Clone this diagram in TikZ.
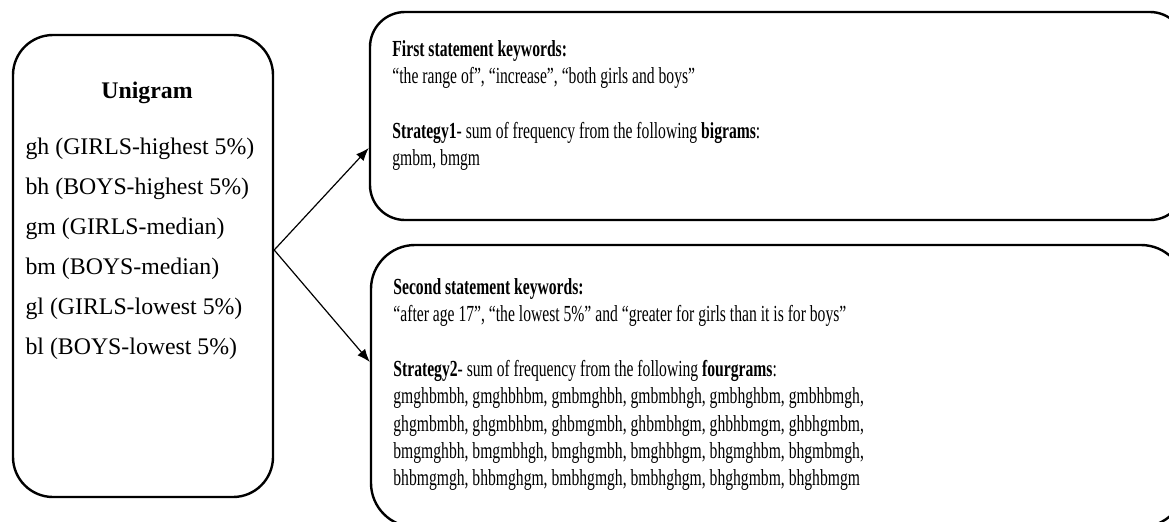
\documentclass[tikz,border=0pt]{standalone}
\usepackage{fontspec}
\setmainfont{Liberation Serif}
\usetikzlibrary{arrows.meta}
\tikzset{> = {Latex[length=6.5pt,width=5pt]}, every picture/.style={line width=0.6pt}}
\tikzset{
  roundbox/.style={draw, line width=1.2pt, inner sep=0pt},
  item/.style={anchor=base west, inner sep=0pt, font=\fontsize{11.9}{20}\selectfont},
  notes/.style={anchor=north west, inner sep=0pt, align=left, font=\fontsize{11.5}{13.65}\selectfont}
}

\begin{document}
\begin{tikzpicture}[x=0.5pt, y=-0.5pt]
\clip (0,0) rectangle (1169,521);

% boxes
\node[roundbox, rounded corners=20pt, minimum width=130pt, minimum height=231pt] (uni) at (143,266) {};
\node[roundbox, rounded corners=17.5pt, minimum width=407.5pt, minimum height=104pt] (first) at (777.5,116) {};
\node[roundbox, rounded corners=22pt, minimum width=407pt, minimum height=141pt] (second) at (778,386) {};

% left box text
\node[item, anchor=base, font=\fontsize{11.9}{20}\selectfont\bfseries] (title) at (147,98) {Unigram};
\foreach \txt [count=\i] in {gh (GIRLS-highest 5\%), bh (BOYS-highest 5\%), gm (GIRLS-median),
    bm (BOYS-median), gl (GIRLS-lowest 5\%), bl (BOYS-lowest 5\%)}
  \node[item] (u\i) at (25,114+40*\i) {\txt};

% right box texts
\begin{scope}[shift={(392,40)}, xscale=0.68, transform shape]
\node[notes] (firsttext) at (0,0) {\textbf{First statement keywords:}\\
  ``the range of'', ``increase'', ``both girls and boys''\\[13.65pt]
  \textbf{Strategy1}- sum of frequency from the following \textbf{bigrams}:\\
  gmbm, bmgm};
\end{scope}

\begin{scope}[shift={(393,278)}, xscale=0.68, transform shape]
\node[notes] (secondtext) at (0,0) {\textbf{Second statement keywords:}\\
  ``after age 17'', ``the lowest 5\%'' and ``greater for girls than it is for boys''\\[13.65pt]
  \textbf{Strategy2}- sum of frequency from the following \textbf{fourgrams}:\\
  gmghbmbh, gmghbhbm, gmbmghbh, gmbmbhgh, gmbhghbm, gmbhbmgh,\\
  ghgmbmbh, ghgmbhbm, ghbmgmbh, ghbmbhgm, ghbhbmgm, ghbhgmbm,\\
  bmgmghbh, bmgmbhgh, bmghgmbh, bmghbhgm, bhgmghbm, bhgmbmgh,\\
  bhbmgmgh, bhbmghgm, bmbhgmgh, bmbhghgm, bhghgmbm, bhghbmgm};
\end{scope}

% arrows
\coordinate (split) at (uni.east |- 0,250);
\draw[->] (split) -- (first.west |- 0,148);
\draw[->] (split) -- (second.west |- 0,362);
\end{tikzpicture}
\end{document}
